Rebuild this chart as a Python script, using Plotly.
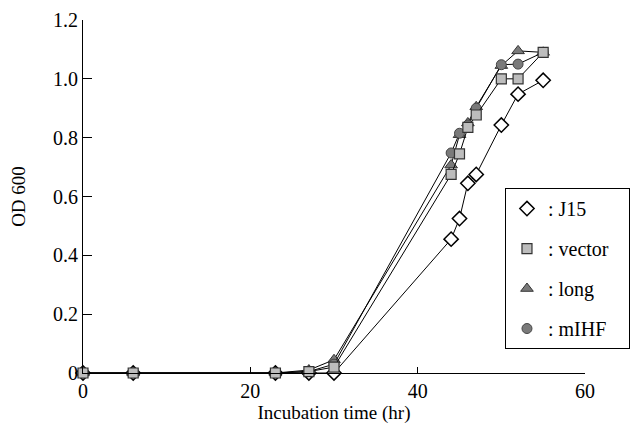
import plotly.graph_objects as go

time_hr = [0, 6, 23, 27, 30, 44, 45, 46, 47, 50, 52, 55]
od_j15 = [0, 0, 0, 0, 0.0, 0.455, 0.525, 0.645, 0.675, 0.843, 0.948, 0.995]
od_vector = [0, 0, 0, 0.005, 0.02, 0.675, 0.745, 0.835, 0.877, 1.0, 1.0, 1.09]
od_long = [0, 0, 0, 0.01, 0.045, 0.707, 0.81, 0.85, 0.905, 1.045, 1.095, 1.09]
od_mihf = [0, 0, 0, 0.005, 0.03, 0.748, 0.815, 0.843, 0.9, 1.048, 1.05, 1.09]

series_names = [": J15", ": vector", ": long", ": mIHF"]
y_tick_vals = [0, 0.2, 0.4, 0.6, 0.8, 1.0, 1.2]
y_tick_text = ["0", "0.2", "0.4", "0.6", "0.8", "1.0", "1.2"]
x_tick_vals = [0, 20, 40, 60]

FONT = "Liberation Serif"

styles = {
    ": J15": dict(symbol="diamond", size=11, color="white", line=dict(color="black", width=1.5)),
    ": vector": dict(symbol="square", size=10, color="#bdbdbd", line=dict(color="#333", width=1.2)),
    ": long": dict(symbol="triangle-up", size=11, color="#7a7a7a", line=dict(color="#333", width=1)),
    ": mIHF": dict(symbol="circle", size=10, color="#7a7a7a", line=dict(color="#444", width=1)),
}
data = {": J15": od_j15, ": vector": od_vector, ": long": od_long, ": mIHF": od_mihf}

fig = go.Figure()
for name in [": J15", ": long", ": mIHF", ": vector"]:
    fig.add_trace(go.Scatter(
        x=time_hr, y=data[name], mode="lines+markers",
        line=dict(color="black", width=1),
        marker=styles[name], showlegend=False, cliponaxis=False,
    ))
# legend-only entries (markers only)
for i, name in enumerate(series_names):
    pad = "\u00a0" * 3 if name == ": vector" else ""
    fig.add_trace(go.Scatter(
        x=[None], y=[None], mode="markers",
        name=name + pad, marker=styles[name],
        legendgroup=name, showlegend=True, legendrank=i,
    ))

fig.update_layout(
    width=632, height=432,
    margin=dict(l=83, r=47, t=20, b=59, autoexpand=False),
    paper_bgcolor="white", plot_bgcolor="white",
    font=dict(family=FONT, size=17, color="black"),
    legend=dict(
        x=0.8406, y=0.524, xanchor="left", yanchor="top",
        bordercolor="black", borderwidth=1, bgcolor="white",
        font=dict(family=FONT, size=20, color="black"),
        tracegroupgap=11, itemwidth=32,
    ),
    xaxis=dict(
        range=[0, 60], showgrid=False, zeroline=False, automargin=False,
        showline=True, linecolor="black", linewidth=1,
        ticks="inside", ticklen=6, tickcolor="black",
        tickvals=x_tick_vals, ticktext=[str(v) for v in x_tick_vals],
        title=dict(text="Incubation time (hr)", standoff=4,
                   font=dict(family=FONT, size=19, color="black")),
        tickfont=dict(family=FONT, size=20, color="black"),
    ),
    yaxis=dict(
        range=[0, 1.2], showgrid=False, zeroline=False, automargin=False,
        showline=True, linecolor="black", linewidth=1,
        ticks="inside", ticklen=9, tickcolor="black",
        tickvals=y_tick_vals, ticktext=y_tick_text,
        title=dict(text="OD 600", standoff=22,
                   font=dict(family=FONT, size=19, color="black")),
        tickfont=dict(family=FONT, size=20, color="black"),
    ),
)

fig.write_html(
    "out.html",
    config={"displayModeBar": False},
    post_script="document.body.style.margin='0';document.body.style.overflow='hidden';",
)
